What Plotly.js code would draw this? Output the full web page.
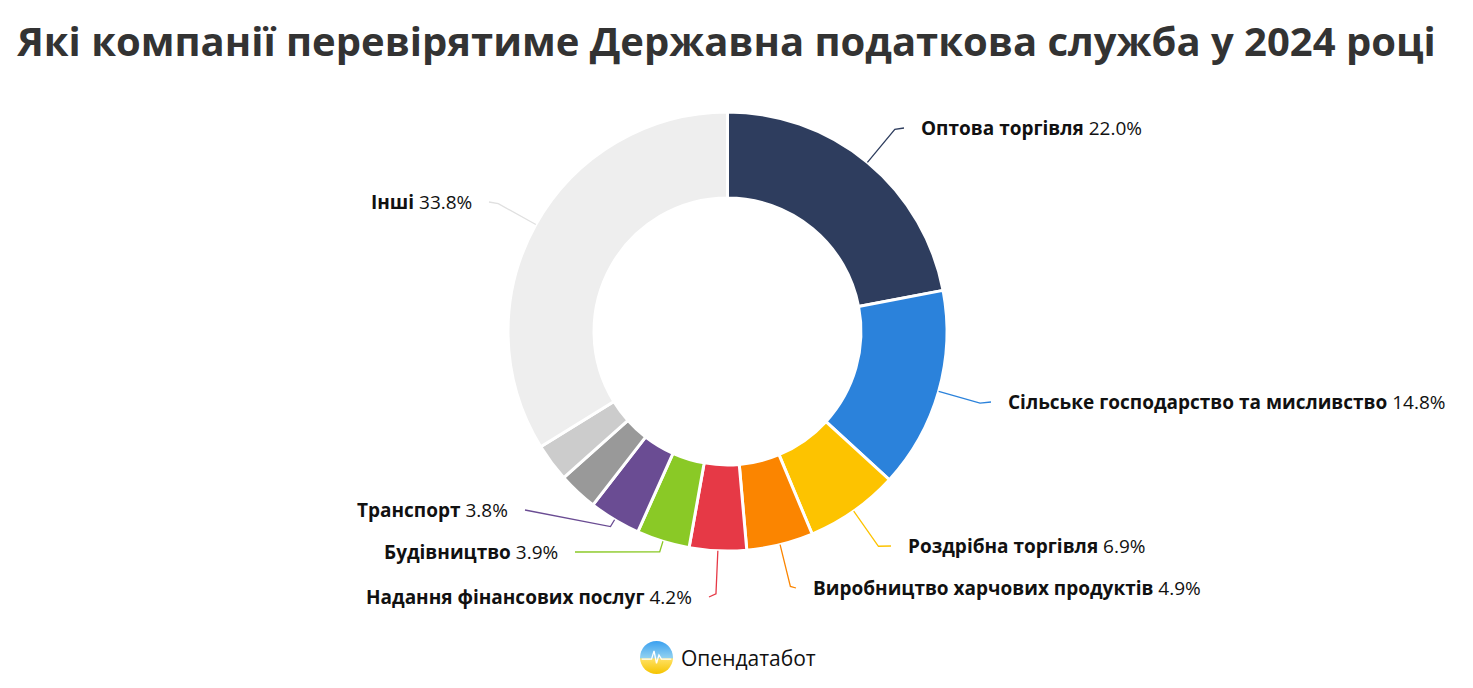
<!DOCTYPE html>
<html><head><meta charset="utf-8">
<script src="https://cdn.plot.ly/plotly-3.0.1.min.js"></script>
<style>html,body{margin:0;padding:0;background:#fff;}#chart{width:1473px;height:688px;}</style>
</head><body><div id="chart"></div>
<script>
const categories = ['Оптова торгівля','Сільське господарство та мисливство','Роздрібна торгівля','Виробництво харчових продуктів','Надання фінансових послуг','Будівництво','Транспорт','Інше 1','Інше 2','Інші'];
const values = [22.0, 14.8, 6.9, 4.9, 4.2, 3.9, 3.8, 2.9, 2.8, 33.8];
const showLabel = [true, true, true, true, true, true, true, false, false, true];
const colors = ['#2e3d5e','#2b82db','#fdc300','#fb8500','#e63946','#8ac926','#6a4c93','#999999','#cccccc','#eeeeee'];
const connectorColors = ['#2e3d5e','#2b82db','#fdc300','#fb8500','#e63946','#8ac926','#6a4c93','#999999','#cccccc','#e0e0e0'];

// layout (pixel) settings
const W = 1473, H = 688;
const cx = 727.5, cy = 331.5, R = 219.5, hole = 0.608;
// label placement: side (+1 right, -1 left), text edge x, text centre y, elbow length
const labelX = [919, 1006, 906, 811, 694, 560, 510, null, null, 474];
const labelY = [128, 402, 546, 588, 597, 552, 510, null, null, 202];
const labelSide = [1, 1, 1, 1, -1, -1, -1, 0, 0, -1];
const elbowLen = [43, 43, 43, 43, 43, 11, 8, 0, 0, 43];

const px = x => x / W;
const py = y => 1 - y / H;

const total = values.reduce((a,b)=>a+b,0);
const annotations = [];
const shapes = [];
let cum = 0;
values.forEach((v,i)=>{
  const a0 = cum / total * 2*Math.PI;
  cum += v;
  const a1 = cum / total * 2*Math.PI;
  if (!showLabel[i]) return;
  const mid = (a0+a1)/2;
  const dx = Math.sin(mid), dy = -Math.cos(mid);
  const ax = cx + R*dx, ay = cy + R*dy;
  const ex = ax + elbowLen[i]*dx, ey = ay + elbowLen[i]*dy;
  const endX = labelX[i] - labelSide[i]*15, endY = labelY[i];
  shapes.push({type:'path', xref:'paper', yref:'paper',
    path:`M ${px(ax)},${py(ay)} L ${px(ex)},${py(ey)} L ${px(endX)},${py(endY)}`,
    line:{color:connectorColors[i], width:1.3}});
  annotations.push({xref:'paper', yref:'paper', x:px(labelX[i]), y:py(labelY[i]),
    xanchor: labelSide[i] > 0 ? 'left' : 'right', yanchor:'middle', showarrow:false,
    text:`<b>${categories[i]}</b> ${v.toFixed(1)}%`,
    font:{family:'Open Sans, Noto Sans, sans-serif', size:19, color:'#111'}});
});

annotations.push({xref:'paper', yref:'paper', x:px(679), y:py(658), xanchor:'left', yanchor:'middle',
  showarrow:false, text:'Опендатабот', font:{family:'Open Sans, Noto Sans, sans-serif', size:21, color:'#111'}});

const logoSvg = `<svg xmlns="http://www.w3.org/2000/svg" width="40" height="40" viewBox="0 0 40 40"><defs><linearGradient id="g" x1="0" y1="0" x2="0" y2="1"><stop offset="0" stop-color="#3aa0f0"/><stop offset="0.5" stop-color="#8fd0f0"/><stop offset="0.55" stop-color="#ffe060"/><stop offset="1" stop-color="#f5c400"/></linearGradient></defs><circle cx="20" cy="20" r="20" fill="url(#g)"/><path d="M2 22 L14 22 L17 12 L20 27 L23 17 L26 22 L38 22" stroke="#fff" stroke-width="1.6" fill="none"/></svg>`;
const logoUri = 'data:image/svg+xml;base64,' + btoa(logoSvg);

const data = [{
  type:'pie', labels:categories, values:values, sort:false, direction:'clockwise', rotation:0,
  hole:hole, textinfo:'none', hoverinfo:'label+percent',
  marker:{colors:colors, line:{color:'#ffffff', width:3}},
  domain:{x:[px(cx-R), px(cx+R)], y:[py(cy+R), py(cy-R)]},
  showlegend:false
}];

const layout = {
  width:W, height:H, margin:{l:0,r:0,t:0,b:0},
  paper_bgcolor:'#fff', plot_bgcolor:'#fff', showlegend:false,
  title:{text:'<b>Які компанії перевірятиме Державна податкова служба у 2024 році</b>',
    x:0.4932, xanchor:'center', y:py(42), yanchor:'middle', yref:'paper',
    font:{family:'Open Sans, Noto Sans, sans-serif', size:40, color:'#333'}},
  annotations:annotations, shapes:shapes,
  images:[{source:logoUri, xref:'paper', yref:'paper', x:px(640), y:py(641), sizex:px(33)-px(0), sizey:33/H, xanchor:'left', yanchor:'top', sizing:'stretch', layer:'above'}]
};
Plotly.newPlot('chart', data, layout, {displayModeBar:false, staticPlot:true});
</script></body></html>
